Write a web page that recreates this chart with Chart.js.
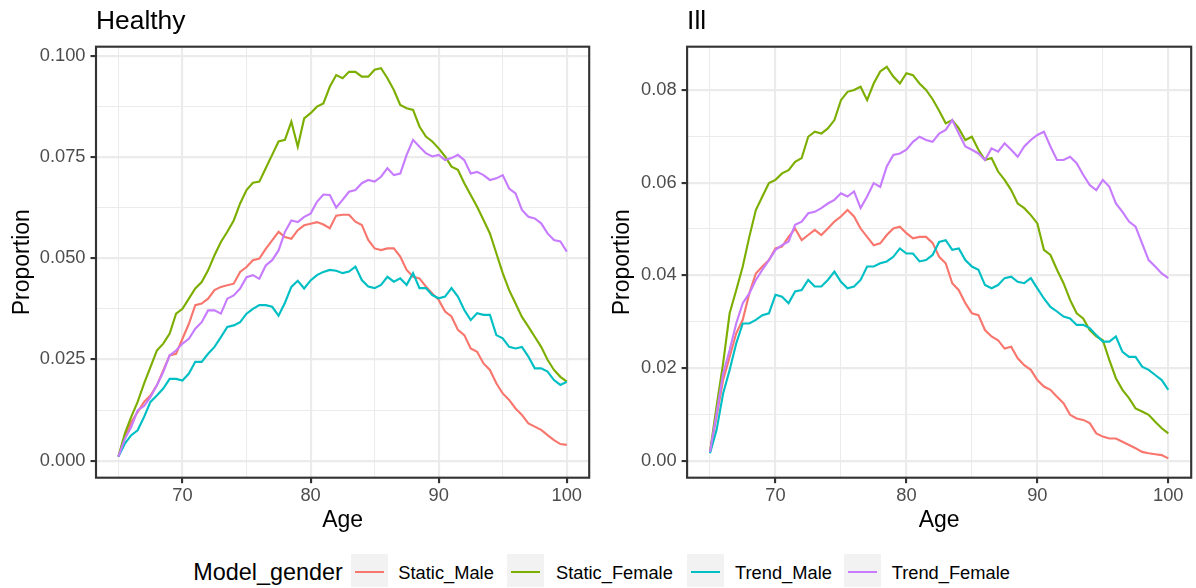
<!DOCTYPE html>
<html>
<head>
<meta charset="utf-8">
<title>Proportion by age</title>
<script src="https://cdn.jsdelivr.net/npm/chart.js@4.4.1/dist/chart.umd.min.js"></script>
<style>
  html, body { margin: 0; padding: 0; background: #ffffff; }
  #wrap { position: relative; width: 1196px; height: 588px; overflow: hidden;
          font-family: "Liberation Sans", Arial, Helvetica, sans-serif; }
  #wrap canvas { position: absolute; top: 0; }
  #cHealthy { left: 0; }
  #cIll { left: 600px; }
  .lg { position: absolute; white-space: nowrap; color: #000; }
  .lgTitle { font-size: 23.4px; line-height: 23.4px; }
  .lgText { font-size: 18.3px; line-height: 18.3px; }
  .key { position: absolute; top: 554px; width: 37px; height: 33px; background: #f2f2f2; }
  .key i { position: absolute; left: 4px; right: 4px; top: 17.2px; height: 2.13px; }
</style>
</head>
<body>
<div id="wrap">
  <canvas id="cHealthy" width="600" height="540"></canvas>
  <canvas id="cIll" width="596" height="540"></canvas>
  <div id="legend"></div>
</div>
<script>
// ---- data: proportion by age, half-year steps ----
const ages = [65, 65.5, 66, 66.5, 67, 67.5, 68, 68.5, 69, 69.5, 70, 70.5, 71, 71.5, 72, 72.5,
  73, 73.5, 74, 74.5, 75, 75.5, 76, 76.5, 77, 77.5, 78, 78.5, 79, 79.5, 80, 80.5, 81, 81.5,
  82, 82.5, 83, 83.5, 84, 84.5, 85, 85.5, 86, 86.5, 87, 87.5, 88, 88.5, 89, 89.5, 90, 90.5,
  91, 91.5, 92, 92.5, 93, 93.5, 94, 94.5, 95, 95.5, 96, 96.5, 97, 97.5, 98, 98.5, 99, 99.5, 100];

const healthyStaticMale = [0.001, 0.0058, 0.0095, 0.012, 0.0145, 0.0161, 0.0186, 0.0223, 0.026, 0.0264,
  0.0301, 0.0338, 0.0384, 0.0388, 0.04, 0.0421, 0.0429, 0.0433, 0.0437, 0.0466, 0.0478, 0.0495,
  0.0499, 0.0523, 0.0544, 0.0565, 0.0552, 0.0548, 0.0569, 0.0581, 0.0585, 0.0589, 0.0583, 0.0574,
  0.0605, 0.0607, 0.0607, 0.059, 0.0582, 0.0545, 0.0524, 0.052, 0.0524, 0.0524, 0.0504, 0.0471,
  0.0454, 0.045, 0.043, 0.0413, 0.0397, 0.0368, 0.0356, 0.0323, 0.031, 0.0277, 0.0269, 0.024,
  0.0224, 0.0191, 0.0166, 0.015, 0.0129, 0.0113, 0.0092, 0.0084, 0.0076, 0.0063, 0.0051, 0.0041, 0.0039];

const healthyStaticFemale = [0.001, 0.0067, 0.0108, 0.0145, 0.019, 0.0231, 0.0272, 0.0289, 0.0314, 0.0363,
  0.0375, 0.04, 0.0425, 0.0441, 0.047, 0.0507, 0.054, 0.0565, 0.0593, 0.0635, 0.0668, 0.0686,
  0.0689, 0.0722, 0.0755, 0.0788, 0.0792, 0.0837, 0.0775, 0.0845, 0.0858, 0.0874, 0.0882, 0.0923,
  0.0952, 0.0944, 0.096, 0.096, 0.0948, 0.0948, 0.0965, 0.0969, 0.0944, 0.0915, 0.0878, 0.087,
  0.0866, 0.0825, 0.08, 0.0788, 0.0771, 0.0751, 0.0726, 0.0718, 0.0685, 0.0656, 0.0627, 0.0594,
  0.0561, 0.0512, 0.0463, 0.0421, 0.0388, 0.0355, 0.0331, 0.0306, 0.0281, 0.0249, 0.0224, 0.0207, 0.0195];

const healthyTrendMale = [0.001, 0.0042, 0.0063, 0.0075, 0.0108, 0.0145, 0.0161, 0.0178, 0.0202, 0.0202,
  0.0198, 0.0215, 0.0244, 0.0244, 0.0264, 0.0281, 0.0305, 0.033, 0.0334, 0.0342, 0.0363, 0.0375,
  0.0384, 0.0384, 0.038, 0.0358, 0.039, 0.0429, 0.0444, 0.0425, 0.0445, 0.0458, 0.0466, 0.0471,
  0.0469, 0.0463, 0.0467, 0.0479, 0.0446, 0.043, 0.0426, 0.0434, 0.0454, 0.0442, 0.045, 0.0434,
  0.0463, 0.0426, 0.0426, 0.0409, 0.0401, 0.0405, 0.0426, 0.0405, 0.0372, 0.0347, 0.0364, 0.036,
  0.036, 0.031, 0.0302, 0.0281, 0.0277, 0.0281, 0.0257, 0.0228, 0.0228, 0.022, 0.0199, 0.0187, 0.0195];

const healthyTrendFemale = [0.001, 0.0054, 0.0083, 0.0124, 0.0135, 0.0157, 0.0186, 0.0219, 0.026, 0.0272,
  0.0289, 0.0301, 0.0326, 0.0342, 0.0371, 0.0371, 0.0363, 0.04, 0.0408, 0.0425, 0.0453, 0.0458,
  0.0449, 0.0482, 0.0495, 0.0519, 0.0565, 0.0593, 0.0589, 0.0602, 0.061, 0.0639, 0.0657, 0.0656,
  0.0625, 0.0644, 0.0664, 0.0668, 0.0685, 0.0693, 0.0689, 0.0701, 0.0722, 0.0705, 0.0709, 0.0755,
  0.0792, 0.0775, 0.0759, 0.0751, 0.0755, 0.0742, 0.0747, 0.0755, 0.0742, 0.0709, 0.0713, 0.0705,
  0.0693, 0.0697, 0.0705, 0.0672, 0.066, 0.0619, 0.0602, 0.0598, 0.0586, 0.0561, 0.0545, 0.0541, 0.0516];

const illStaticMale = [0.0019, 0.0095, 0.0174, 0.0224, 0.0275, 0.0304, 0.0361, 0.0404, 0.0419, 0.0433,
  0.0458, 0.0462, 0.0483, 0.0501, 0.0476, 0.0487, 0.0498, 0.0487, 0.0501, 0.0516, 0.0527, 0.0541,
  0.0527, 0.0501, 0.0483, 0.0465, 0.0469, 0.0487, 0.0501, 0.0505, 0.0491, 0.048, 0.0483, 0.0483,
  0.047, 0.044, 0.0426, 0.0383, 0.0368, 0.034, 0.0318, 0.0314, 0.0282, 0.0268, 0.026, 0.0242,
  0.0246, 0.0221, 0.0206, 0.0196, 0.0174, 0.016, 0.0153, 0.0138, 0.0124, 0.0099, 0.0091, 0.0088,
  0.0081, 0.0059, 0.0052, 0.0048, 0.0048, 0.0041, 0.0034, 0.0027, 0.0019, 0.0016, 0.0014, 0.0012, 0.0005];

const illStaticFemale = [0.0019, 0.0117, 0.021, 0.0318, 0.0368, 0.0419, 0.0483, 0.0541, 0.057, 0.0599,
  0.0606, 0.062, 0.0627, 0.0645, 0.0653, 0.0699, 0.071, 0.0706, 0.0717, 0.0735, 0.0778, 0.0796,
  0.08, 0.0807, 0.0778, 0.0814, 0.084, 0.085, 0.0829, 0.0814, 0.0836, 0.0832, 0.0814, 0.08,
  0.078, 0.0755, 0.0728, 0.0735, 0.0717, 0.0692, 0.0699, 0.0671, 0.0649, 0.0653, 0.0624, 0.0606,
  0.0584, 0.0555, 0.0545, 0.053, 0.0512, 0.0455, 0.0444, 0.0412, 0.0383, 0.0347, 0.0318, 0.0307,
  0.0282, 0.0268, 0.026, 0.0217, 0.0178, 0.0153, 0.0135, 0.0113, 0.0106, 0.0099, 0.0084, 0.007, 0.0059];

const illTrendMale = [0.0016, 0.0066, 0.0145, 0.0196, 0.0253, 0.0296, 0.0296, 0.0304, 0.0314, 0.0318,
  0.0358, 0.0354, 0.034, 0.0365, 0.0368, 0.039, 0.0376, 0.0376, 0.039, 0.0408, 0.0386, 0.0372,
  0.0376, 0.039, 0.0419, 0.0419, 0.0426, 0.043, 0.044, 0.0458, 0.0447, 0.0447, 0.043, 0.0433,
  0.0444, 0.0472, 0.0476, 0.0455, 0.0458, 0.0433, 0.0419, 0.0412, 0.0379, 0.0372, 0.0379, 0.0394,
  0.0397, 0.0386, 0.0383, 0.0394, 0.0372, 0.035, 0.0332, 0.0322, 0.0311, 0.0307, 0.0293, 0.0293,
  0.0286, 0.0271, 0.0257, 0.0257, 0.0268, 0.0235, 0.0224, 0.0224, 0.0203, 0.0196, 0.0185, 0.0174, 0.0153];

const illTrendFemale = [0.0019, 0.0102, 0.0188, 0.0239, 0.0296, 0.034, 0.0361, 0.039, 0.0412, 0.0433,
  0.0455, 0.0465, 0.0473, 0.0509, 0.0516, 0.0534, 0.0537, 0.0545, 0.0555, 0.0563, 0.0577, 0.057,
  0.0581, 0.0545, 0.057, 0.0599, 0.0591, 0.0635, 0.066, 0.0663, 0.0671, 0.0688, 0.0699, 0.0692,
  0.0688, 0.0706, 0.0714, 0.0735, 0.0706, 0.0678, 0.0671, 0.0663, 0.0649, 0.0674, 0.0667, 0.0685,
  0.0671, 0.0656, 0.0678, 0.0692, 0.0703, 0.071, 0.0678, 0.0649, 0.0649, 0.0656, 0.0642, 0.0617,
  0.0595, 0.0584, 0.0606, 0.0591, 0.0555, 0.0537, 0.0516, 0.0505, 0.0469, 0.0433, 0.0419, 0.0404, 0.0394];

// ---- series names, colours and axis ticks ----
const seriesNames = ['Static_Male', 'Static_Female', 'Trend_Male', 'Trend_Female'];
const seriesColors = ['#F8766D', '#7CAE00', '#00BFC4', '#C77CFF'];

const ageTicks = [70, 80, 90, 100];
const ageTickLabels = ['70', '80', '90', '100'];
const ageMinorTicks = [65, 75, 85, 95];

const healthyTicks = [0, 0.025, 0.05, 0.075, 0.1];
const healthyTickLabels = ['0.000', '0.025', '0.050', '0.075', '0.100'];
const healthyMinorTicks = [0.0125, 0.0375, 0.0625, 0.0875];

const illTicks = [0, 0.02, 0.04, 0.06, 0.08];
const illTickLabels = ['0.00', '0.02', '0.04', '0.06', '0.08'];
const illMinorTicks = [0.01, 0.03, 0.05, 0.07];

// ---- drawing ----
const FONT = '"Liberation Sans", Arial, Helvetica, sans-serif';
const MAJOR_W = 2.13, MINOR_W = 1.07;
const TICK_SIZE = 18.3, AXIS_TITLE_SIZE = 23;

// panel frame drawn over the lines, plus the panel heading
const panelDecor = {
  id: 'panelDecor',
  afterDatasetsDraw(chart) {
    const { ctx, chartArea: a } = chart;
    ctx.save();
    ctx.strokeStyle = '#333333';
    ctx.lineWidth = MAJOR_W;
    ctx.strokeRect(a.left, a.top, a.right - a.left, a.bottom - a.top);
    ctx.restore();
  },
  afterDraw(chart, args, opts) {
    const { ctx, chartArea: a } = chart;
    ctx.save();
    ctx.fillStyle = '#000000';
    ctx.font = '26.4px ' + FONT;
    ctx.textAlign = 'left';
    ctx.textBaseline = 'alphabetic';
    ctx.fillText(opts.title, a.left, 29.3);
    ctx.restore();
  }
};

function tickedScale(majors, labels, minors, pad) {
  const isMajor = v => majors.some(m => Math.abs(m - v) < 1e-9);
  return {
    afterBuildTicks: s => {
      s.ticks = majors.concat(minors).sort((p, q) => p - q).map(v => ({ value: v }));
    },
    ticks: {
      autoSkip: false, maxRotation: 0, minRotation: 0, padding: pad,
      color: '#4d4d4d', font: { family: FONT, size: TICK_SIZE },
      callback: v => {
        const i = majors.findIndex(m => Math.abs(m - v) < 1e-9);
        return i >= 0 ? labels[i] : '';
      }
    },
    grid: {
      color: '#ebebeb',
      lineWidth: c => (c.tick && !isMajor(c.tick.value)) ? MINOR_W : MAJOR_W,
      tickColor: c => (c.tick && !isMajor(c.tick.value)) ? 'rgba(0,0,0,0)' : '#333333',
      tickLength: 5.5,
      tickWidth: MAJOR_W,
      drawTicks: true
    },
    border: { display: false }
  };
}

function makePanel(canvasId, title, series, yMin, yMax, yMajors, yLabels, yMinors, geo) {
  const xBase = tickedScale(ageTicks, ageTickLabels, ageMinorTicks, 1.9);
  const yBase = tickedScale(yMajors, yLabels, yMinors, 5);
  const datasets = series.map((vals, k) => ({
    label: seriesNames[k],
    data: ages.map((a, i) => ({ x: a, y: vals[i] })),
    borderColor: seriesColors[k],
    backgroundColor: seriesColors[k],
    borderWidth: 2.13,
    pointRadius: 0,
    pointHoverRadius: 0,
    tension: 0,
    fill: false,
    order: series.length - k
  }));
  return new Chart(document.getElementById(canvasId), {
    type: 'line',
    data: { datasets },
    plugins: [panelDecor],
    options: {
      responsive: false,
      animation: false,
      devicePixelRatio: 1,
      layout: { padding: { left: 0, top: 46.7, right: geo.padRight, bottom: 0 } },
      plugins: {
        legend: { display: false },
        tooltip: { enabled: false },
        panelDecor: { title }
      },
      scales: {
        x: Object.assign(xBase, {
          type: 'linear', min: 63.25, max: 101.75,
          title: { display: true, text: 'Age', color: '#000000',
                   font: { family: FONT, size: AXIS_TITLE_SIZE }, padding: { top: 0, bottom: 5.6 } },
          afterFit: s => { s.height = 62.3; }
        }),
        y: Object.assign(yBase, {
          type: 'linear', min: yMin, max: yMax,
          title: { display: true, text: 'Proportion', color: '#000000',
                   font: { family: FONT, size: AXIS_TITLE_SIZE }, padding: { top: 9.1, bottom: 0 } },
          afterFit: s => { s.width = geo.yWidth; }
        })
      }
    }
  });
}

makePanel('cHealthy', 'Healthy',
  [healthyStaticMale, healthyStaticFemale, healthyTrendMale, healthyTrendFemale],
  -0.0042, 0.1022, healthyTicks, healthyTickLabels, healthyMinorTicks,
  { yWidth: 96.0, padRight: 10.8 });

makePanel('cIll', 'Ill',
  [illStaticMale, illStaticFemale, illTrendMale, illTrendFemale],
  -0.00367, 0.08934, illTicks, illTickLabels, illMinorTicks,
  { yWidth: 87.1, padRight: 4.8 });

// ---- shared legend ----
(function buildLegend() {
  const host = document.getElementById('legend');
  const keyLeft = [351, 507.3, 686.7, 844];
  const textLeft = [398.3, 556, 735, 891.7];
  const t = document.createElement('div');
  t.className = 'lg lgTitle';
  t.style.left = '193.3px';
  t.style.top = '560.7px';
  t.textContent = 'Model_gender';
  host.appendChild(t);
  seriesNames.forEach((name, k) => {
    const key = document.createElement('div');
    key.className = 'key';
    key.style.left = keyLeft[k] + 'px';
    const ln = document.createElement('i');
    ln.style.background = seriesColors[k];
    key.appendChild(ln);
    host.appendChild(key);
    const lab = document.createElement('div');
    lab.className = 'lg lgText';
    lab.style.left = textLeft[k] + 'px';
    lab.style.top = '563.5px';
    lab.textContent = name;
    host.appendChild(lab);
  });
})();
</script>
</body>
</html>
